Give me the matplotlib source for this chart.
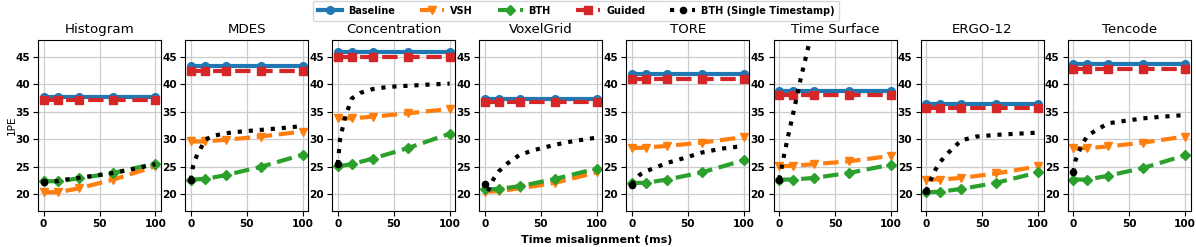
"""1PE versus time misalignment for eight event representations (one row of panels)."""

import matplotlib

matplotlib.use("Agg")
import matplotlib.pyplot as plt

# --- data ---
PANELS = ["Histogram", "MDES", "Concentration", "VoxelGrid",
          "TORE", "Time Surface", "ERGO-12", "Tencode"]

X_MS = [0, 12.5, 31.25, 62.5, 100]
X_DENSE = [0, 2, 4, 6, 8, 12.5, 20, 31.25, 45, 62.5, 80, 100]

BASELINE = [
    [37.6, 37.6, 37.6, 37.6, 37.6],
    [43.2, 43.2, 43.2, 43.2, 43.2],
    [45.8, 45.8, 45.8, 45.8, 45.8],
    [37.3, 37.3, 37.3, 37.3, 37.3],
    [41.8, 41.8, 41.8, 41.8, 41.8],
    [38.7, 38.7, 38.7, 38.7, 38.7],
    [36.4, 36.4, 36.4, 36.4, 36.4],
    [43.6, 43.6, 43.6, 43.6, 43.6],
]
GUIDED = [
    [37.2, 37.2, 37.2, 37.2, 37.2],
    [42.3, 42.3, 42.3, 42.3, 42.3],
    [45.0, 45.0, 45.0, 45.0, 45.0],
    [36.8, 36.8, 36.8, 36.8, 36.8],
    [41.0, 41.0, 41.0, 41.0, 41.0],
    [38.0, 38.0, 38.0, 38.0, 38.0],
    [35.7, 35.7, 35.7, 35.7, 35.7],
    [42.8, 42.8, 42.8, 42.8, 42.8],
]
VSH = [
    [20.4, 20.4, 21.1, 22.7, 25.1],
    [29.6, 29.6, 29.9, 30.5, 31.4],
    [33.8, 33.8, 34.1, 34.7, 35.5],
    [20.5, 20.6, 21.1, 22.1, 24.0],
    [28.4, 28.5, 28.8, 29.4, 30.4],
    [25.1, 25.2, 25.5, 26.0, 27.0],
    [22.7, 22.7, 23.0, 23.8, 25.1],
    [28.4, 28.4, 28.7, 29.4, 30.5],
]
BTH = [
    [22.4, 22.4, 22.9, 23.9, 25.6],
    [22.7, 22.8, 23.5, 25.0, 27.2],
    [25.1, 25.5, 26.5, 28.4, 31.0],
    [20.9, 21.0, 21.5, 22.8, 24.7],
    [22.1, 22.1, 22.7, 24.0, 26.2],
    [22.7, 22.7, 23.0, 23.9, 25.4],
    [20.4, 20.5, 21.0, 22.1, 24.0],
    [22.7, 22.7, 23.4, 24.8, 27.1],
]
BTH_SINGLE = [
    [22.3, 22.3, 22.3, 22.4, 22.4, 22.4, 22.7, 23.0, 23.4, 23.9, 24.6, 25.5],
    [22.6, 25.0, 26.3, 27.3, 27.9, 29.9, 30.6, 31.1, 31.4, 31.7, 32.0, 32.4],
    [25.5, 30.0, 31.8, 33.6, 34.8, 37.4, 38.4, 39.1, 39.5, 39.7, 39.9, 40.1],
    [21.9, 20.3, 21.2, 22.1, 22.9, 24.2, 25.6, 27.2, 28.1, 29.0, 29.7, 30.3],
    [21.8, 22.6, 23.0, 23.4, 23.7, 24.2, 24.8, 25.7, 26.5, 27.6, 28.3, 28.8],
    [22.7, 24.6, 26.7, 28.6, 30.5, 34.6, 41.6, 51.0, 60.0, 70.0, 78.0, 85.0],
    [20.6, 21.6, 22.6, 23.5, 24.4, 25.9, 27.6, 29.8, 30.5, 30.8, 31.0, 31.2],
    [24.0, 26.2, 27.2, 28.2, 29.1, 30.6, 31.6, 32.9, 33.3, 33.8, 34.1, 34.4],
]

Y_TICKS = [20, 25, 30, 35, 40, 45]
X_TICKS = [0, 50, 100]

# --- layout (pixels on a 1196x247 canvas, converted to figure fractions) ---
W_PX, H_PX = 1196, 247
AX_LEFT0, AX_STEP, AX_W = 38, 147.1, 123
AX_TOP, AX_BOTTOM = 40, 211

plt.rcParams.update({
    "font.family": "DejaVu Sans",
    "axes.titlesize": 9.6,
    "xtick.labelsize": 7.6,
    "ytick.labelsize": 7.6,
    "lines.linewidth": 3,
})

fig = plt.figure(figsize=(W_PX / 100, H_PX / 100), dpi=100)

handles = None
for i, title in enumerate(PANELS):
    left = (AX_LEFT0 + i * AX_STEP) / W_PX
    bottom = 1 - AX_BOTTOM / H_PX
    ax = fig.add_axes([left, bottom, AX_W / W_PX, (AX_BOTTOM - AX_TOP) / H_PX])

    l1, = ax.plot(X_MS, BASELINE[i], color="#1f77b4", ls="-", marker="o",
                  ms=5.5, label="Baseline")
    l2, = ax.plot(X_MS, VSH[i], color="#ff7f0e", ls="--", marker="v",
                  ms=6, label="VSH")
    l3, = ax.plot(X_MS, BTH[i], color="#2ca02c", ls="--", marker="D",
                  ms=5.5, label="BTH")
    l4, = ax.plot(X_MS, GUIDED[i], color="#d62728", ls="--", marker="s",
                  ms=6, label="Guided")
    l5, = ax.plot(X_DENSE, BTH_SINGLE[i], color="black", ls=":", marker="o",
                  ms=4.5, markevery=[0], label="BTH (Single Timestamp)")
    handles = [l1, l2, l3, l4, l5]

    ax.set_title(title, pad=5)
    ax.set_ylim(17, 48)
    ax.set_xlim(-5, 105)
    ax.set_yticks(Y_TICKS)
    ax.set_xticks(X_TICKS)
    ax.grid(True, color="#cccccc", lw=0.9)
    ax.set_axisbelow(True)
    for lab in ax.get_xticklabels() + ax.get_yticklabels():
        lab.set_fontweight("bold")
    ax.tick_params(length=3.5, pad=2.5)

fig.text(12 / W_PX, 1 - 125 / H_PX, "1PE", rotation=90, ha="center",
         va="center", fontsize=7.6)

fig.legend(handles, [h.get_label() for h in handles], loc="upper center",
           bbox_to_anchor=(576 / W_PX, 1.0), ncol=5, frameon=True,
           prop={"weight": "bold", "size": 7}, borderpad=0.5,
           handlelength=2.5, columnspacing=2.6, handletextpad=0.6,
           borderaxespad=0.1)

fig.text(597 / W_PX, 1 - 240 / H_PX, "Time misalignment (ms)", ha="center",
         va="center", fontsize=8, fontweight="bold")

fig.savefig("out.png", dpi=100)
